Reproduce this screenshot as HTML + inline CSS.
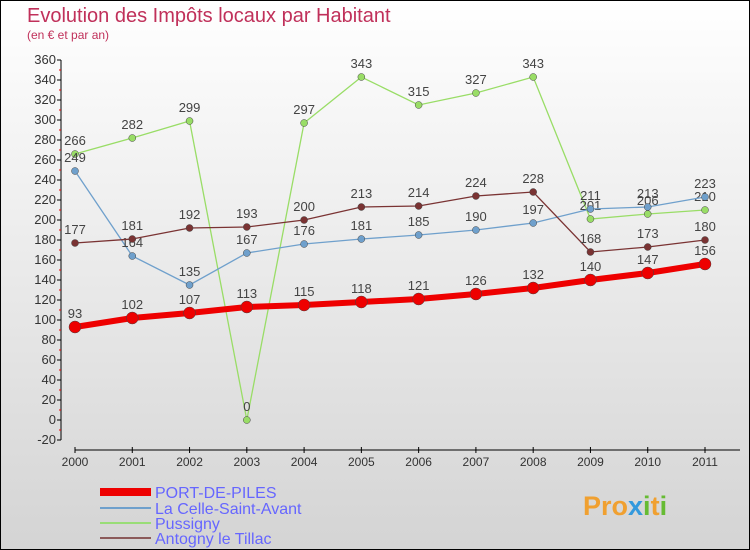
<!DOCTYPE html>
<html><head><meta charset="utf-8"><style>
body{margin:0}
svg{display:block;font-family:"Liberation Sans","DejaVu Sans",sans-serif}
</style></head><body>
<svg id="c" width="750" height="550" xmlns="http://www.w3.org/2000/svg">
<defs><linearGradient id="bg" x1="0" y1="0" x2="0" y2="1"><stop offset="0" stop-color="#ffffff"/><stop offset="1" stop-color="#d4d4d4"/></linearGradient></defs>
<rect x="0.5" y="0.5" width="749" height="549" fill="url(#bg)" stroke="#000"/>
<text x="27" y="22" font-size="20" font-weight="normal" fill="#c0305a">Evolution des Impôts locaux par Habitant</text>
<text x="27" y="39" font-size="12" fill="#c0305a">(en € et par an)</text>
<g id="axes"></g>
<g id="series"></g>
<g id="legend" font-size="16" fill="#6666ff">
<rect x="100" y="488" width="51" height="8" fill="#ee0000"/>
<text x="155" y="498">PORT-DE-PILES</text>
<rect x="100" y="507" width="51" height="2" fill="#6fa0cc"/>
<text x="155" y="514">La Celle-Saint-Avant</text>
<rect x="100" y="522" width="51" height="2" fill="#99dd77"/>
<text x="155" y="529">Pussigny</text>
<rect x="100" y="537" width="51" height="2" fill="#8b5a5a"/>
<text x="155" y="544">Antogny le Tillac</text>
</g>
<text x="583" y="515" font-size="27" font-weight="bold" fill="#f0a030">Pro<tspan fill="#3399dd">x</tspan><tspan fill="#66bb33">i</tspan>t<tspan fill="#66bb33">i</tspan></text>
</svg>
<script>
const years=["2000","2001","2002","2003","2004","2005","2006","2007","2008","2009","2010","2011"];
const yTicks=[-20,0,20,40,60,80,100,120,140,160,180,200,220,240,260,280,300,320,340,360];
const port=[93,102,107,113,115,118,121,126,132,140,147,156];
const celle=[249,164,135,167,176,181,185,190,197,211,213,223];
const pussigny=[266,282,299,0,297,343,315,327,343,201,206,210];
const antogny=[177,181,192,193,200,213,214,224,228,168,173,180];
const NS="http://www.w3.org/2000/svg";
const X=i=>75+i*(630/11);
const Y=v=>420-v;
function mk(t,a,p){const e=document.createElementNS(NS,t);for(const k in a)e.setAttribute(k,a[k]);p.appendChild(e);return e;}
const ax=document.getElementById('axes');
let l=mk('line',{x1:61,y1:60,x2:61,y2:440,stroke:'#000'},ax);


yTicks.forEach(v=>{
 mk('line',{x1:57,y1:Y(v),x2:61,y2:Y(v),stroke:'#000'},ax);
 if(v<360) mk('line',{x1:59,y1:Y(v)-10,x2:61,y2:Y(v)-10,stroke:'#e00'},ax);
 const t=mk('text',{x:56,y:Y(v)+4,'text-anchor':'end','font-size':13,fill:'#333'},ax);
 t.textContent=v;
 
 
});
l=mk('line',{x1:75,y1:450,x2:740,y2:450,stroke:'#000'},ax);


years.forEach((y,i)=>{
 mk('line',{x1:X(i),y1:447,x2:X(i),y2:453,stroke:'#000'},ax);
 const t=mk('text',{x:X(i),y:466,'text-anchor':'middle','font-size':12,fill:'#333'},ax);
 t.textContent=y;
 
 
});
const sg=document.getElementById('series');
function series(d,col,w,r,name){
 const g=mk('g',{},sg);
 
 
 const p=mk('polyline',{points:d.map((v,i)=>X(i)+','+Y(v)).join(' '),fill:'none',stroke:col,'stroke-width':w},g);
 
 
 d.forEach((v,i)=>{
  const c=mk('circle',{cx:X(i),cy:Y(v),r:r,fill:col,stroke:'#444','stroke-width':0.5},g);
  
  
  const t=mk('text',{x:X(i),y:Y(v)-9,'text-anchor':'middle','font-size':13,fill:'#444'},g);
  t.textContent=v;
  
  
 });
}
series(pussigny,'#99dd66',1.3,3.5,'pussigny');
series(celle,'#6fa0cc',1.3,3.5,'la-celle');
series(antogny,'#7a3333',1.3,3.5,'antogny');
series(port,'#ee0000',6,6,'port-de-piles');
</script>
</body></html>
